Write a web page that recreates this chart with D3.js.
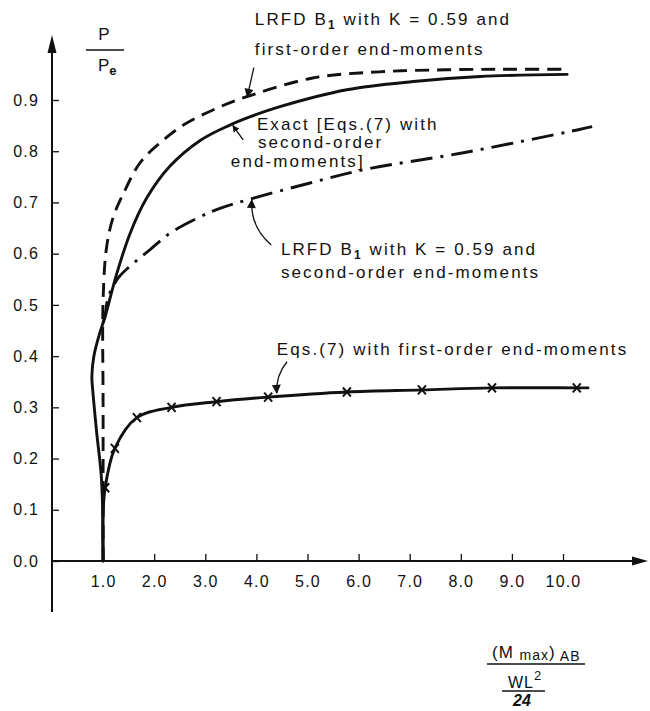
<!DOCTYPE html>
<html><head><meta charset="utf-8">
<script src="https://cdn.jsdelivr.net/npm/d3@7"></script>
<style>
body{margin:0;background:#fff;}
text{font-family:"Liberation Sans",Arial,Helvetica,sans-serif;fill:#111;}
</style></head>
<body>
<svg id="c" width="650" height="711"></svg>
<script>
// ---- data ----
const xTickValues = [1,2,3,4,5,6,7,8,9,10];
const xTickLabels = ["1.0","2.0","3.0","4.0","5.0","6.0","7.0","8.0","9.0","10.0"];
const yTickValues = [0,0.1,0.2,0.3,0.4,0.5,0.6,0.7,0.8,0.9];
const yTickLabels = ["0.0","0.1","0.2","0.3","0.4","0.5","0.6","0.7","0.8","0.9"];

// LRFD B1 with K=0.59 and first-order end-moments (dashed)
const lrfdFirstX = [1.0,1.0,1.0,1.07,1.2,1.4,1.72,2.11,2.57,3.16,3.74,5.1,6.4,7.7,8.9,10.04];
const lrfdFirstP = [0.0,0.30,0.51,0.614,0.672,0.718,0.777,0.816,0.851,0.881,0.904,0.943,0.955,0.959,0.96,0.96];

// Exact [Eqs.(7) with second-order end-moments] (solid)
const exactX = [1.0,0.97,0.875,0.80,0.78,0.82,0.92,1.0,1.04,1.27,1.53,1.85,2.31,2.9,3.48,3.87,4.46,5.77,7.07,8.38,10.08];
const exactP = [0.0,0.158,0.25,0.33,0.36,0.40,0.44,0.465,0.477,0.562,0.64,0.708,0.771,0.821,0.851,0.867,0.887,0.92,0.936,0.946,0.95];

// LRFD B1 with K=0.59 and second-order end-moments (dash-dot)
const lrfdSecondX = [1.0,1.04,1.1,1.3,1.59,1.92,2.31,2.9,3.22,3.82,5.05,6.1,8.05,10.3,10.57];
const lrfdSecondP = [0.465,0.48,0.515,0.553,0.581,0.608,0.64,0.672,0.686,0.705,0.738,0.764,0.797,0.842,0.848];

// Eqs.(7) with first-order end-moments (solid with crosses)
const firstOrderX = [1.0,1.0,1.04,1.23,1.66,2.34,3.22,4.23,5.77,7.24,8.61,10.27,10.49];
const firstOrderP = [0.0,0.09,0.143,0.22,0.28,0.30,0.311,0.32,0.33,0.334,0.338,0.338,0.338];
const crossX = [1.04,1.23,1.66,2.34,3.22,4.23,5.77,7.24,8.61,10.27];
const crossP = [0.143,0.22,0.28,0.30,0.311,0.32,0.33,0.334,0.338,0.338];

// annotations (data coordinates)
const annLines = [
  {x:3.97,p:1.047,parts:[["LRFD B"],["1","sub"],[" with K = 0.59 and"]]},
  {x:3.97,p:0.988,parts:[["first-order end-moments"]]},
  {x:4.01,p:0.842,parts:[["Exact [Eqs.(7) with"]]},
  {x:4.03,p:0.806,parts:[["second-order"]]},
  {x:3.50,p:0.770,parts:[["end-moments]"]]},
  {x:4.48,p:0.598,parts:[["LRFD B"],["1","sub"],[" with K = 0.59 and"]]},
  {x:4.48,p:0.553,parts:[["second-order end-moments"]]},
  {x:4.40,p:0.402,parts:[["Eqs.(7) with first-order end-moments"]]}
];
const arrows = [
  {x0:3.95,p0:0.963,x1:3.82,p1:0.906,bend:0},
  {x0:3.74,p0:0.822,x1:3.54,p1:0.850,bend:0},
  {x0:4.29,p0:0.617,x1:3.91,p1:0.705,bend:-0.25},
  {x0:4.60,p0:0.389,x1:4.40,p1:0.328,bend:0.2}
];

// ---- drawing ----
const svg = d3.select("#c");
svg.append("rect").attr("width",650).attr("height",711).attr("fill","#fff");
const x = d3.scaleLinear().domain([0,10]).range([52,563]);
const y = d3.scaleLinear().domain([0,0.9]).range([561,100]);
const ink = "#111";

// axes lines
svg.append("line").attr("x1",x(0)).attr("x2",x(0)).attr("y1",612).attr("y2",44)
  .attr("stroke",ink).attr("stroke-width",2);
svg.append("path").attr("d",`M${x(0)},35 L${x(0)-4.5},53 L${x(0)+4.5},53 Z`).attr("fill",ink);
svg.append("line").attr("x1",x(0)).attr("x2",640).attr("y1",y(0)).attr("y2",y(0))
  .attr("stroke",ink).attr("stroke-width",2);
svg.append("path").attr("d",`M648,${y(0)} L632,${y(0)-4.5} L632,${y(0)+4.5} Z`).attr("fill",ink);

const xAxis = d3.axisBottom(x).tickValues(xTickValues)
  .tickFormat((d,i)=>xTickLabels[i]).tickSize(-7).tickPadding(15);
const gx = svg.append("g").attr("transform",`translate(0,${y(0)})`).call(xAxis);
gx.select(".domain").remove();
gx.selectAll(".tick line").attr("stroke",ink).attr("stroke-width",1.3);
gx.selectAll(".tick text").attr("font-size",16).attr("fill",ink)
  .style("letter-spacing","1.2px").attr("font-family","Liberation Sans, Arial, sans-serif");

const yAxis = d3.axisLeft(y).tickValues(yTickValues)
  .tickFormat((d,i)=>yTickLabels[i]).tickSize(-7).tickPadding(13);
const gy = svg.append("g").attr("transform",`translate(${x(0)},0)`).call(yAxis);
gy.select(".domain").remove();
gy.selectAll(".tick line").attr("stroke",ink).attr("stroke-width",1.3);
gy.selectAll(".tick text").attr("font-size",16).attr("fill",ink)
  .style("letter-spacing","1.2px").attr("font-family","Liberation Sans, Arial, sans-serif");

// curves
const mk = (xs,ps)=>xs.map((v,i)=>[v,ps[i]]);
const line = d3.line().x(d=>x(d[0])).y(d=>y(d[1])).curve(d3.curveCatmullRom.alpha(0.5));

svg.append("path").attr("d",line(mk(exactX,exactP)))
  .attr("fill","none").attr("stroke",ink).attr("stroke-width",2.9).attr("stroke-linecap","round");
svg.append("path").attr("d",line(mk(lrfdSecondX,lrfdSecondP)))
  .attr("fill","none").attr("stroke",ink).attr("stroke-width",2.9)
  .attr("stroke-dasharray","22,8,3,8");
svg.append("path").attr("d",line(mk(lrfdFirstX,lrfdFirstP)))
  .attr("fill","none").attr("stroke",ink).attr("stroke-width",2.9)
  .attr("stroke-dasharray","14,8");
svg.append("path").attr("d",line(mk(firstOrderX,firstOrderP)))
  .attr("fill","none").attr("stroke",ink).attr("stroke-width",2.9).attr("stroke-linecap","round");
svg.append("g").selectAll("path").data(mk(crossX,crossP)).join("path")
  .attr("d",d=>{const cx=x(d[0]),cy=y(d[1]);return `M${cx-4},${cy-4.5}L${cx+4},${cy+4.5}M${cx+4},${cy-4.5}L${cx-4},${cy+4.5}`;})
  .attr("stroke",ink).attr("stroke-width",2);

// annotations text
const annG = svg.append("g");
annLines.forEach(a=>{
  const t = annG.append("text").attr("x",x(a.x)).attr("y",y(a.p))
    .attr("font-size",17).style("letter-spacing","2.1px");
  a.parts.forEach(pt=>{
    const s = t.append("tspan").text(pt[0]);
    if(pt[1]==="sub"){ s.attr("font-size",12).attr("dy",4).attr("font-weight","bold"); }
    else if(t.selectAll("tspan").size()>1){ s.attr("dy",-4); }
  });
});

// arrows
const defs = svg.append("defs");
defs.append("marker").attr("id","ah").attr("viewBox","0 0 10 10").attr("refX",9).attr("refY",5)
  .attr("markerWidth",7).attr("markerHeight",9).attr("markerUnits","userSpaceOnUse").attr("orient","auto")
  .append("path").attr("d","M0,0 L10,5 L0,10 Z").attr("fill",ink);
defs.append("marker").attr("id","ahL").attr("viewBox","0 0 10 10").attr("refX",9).attr("refY",5)
  .attr("markerWidth",12).attr("markerHeight",9).attr("markerUnits","userSpaceOnUse").attr("orient","auto")
  .append("path").attr("d","M0,0 L10,5 L0,10 Z").attr("fill",ink);
arrows.forEach((a,i)=>{
  const X0=x(a.x0),Y0=y(a.p0),X1=x(a.x1),Y1=y(a.p1);
  const mx=(X0+X1)/2, my=(Y0+Y1)/2, dx=X1-X0, dy=Y1-Y0;
  const cx=mx - dy*a.bend, cy=my + dx*a.bend;
  svg.append("path").attr("d",`M${X0},${Y0} Q${cx},${cy} ${X1},${Y1}`)
    .attr("fill","none").attr("stroke",ink).attr("stroke-width",1.3)
    .attr("marker-end", i===1 ? "url(#ah)" : "url(#ahL)");
});

// y axis label  P / Pe
svg.append("text").attr("x",104).attr("y",40).attr("text-anchor","middle").attr("font-size",17).text("P");
svg.append("line").attr("x1",86).attr("x2",124).attr("y1",50).attr("y2",50).attr("stroke",ink).attr("stroke-width",1.3);
const pe = svg.append("text").attr("x",98).attr("y",71).attr("font-size",17);
pe.append("tspan").text("P");
pe.append("tspan").text("e").attr("font-size",13).attr("font-weight","bold").attr("dy",4);

// x axis label
const mt = svg.append("text").attr("x",492).attr("y",658).attr("font-size",17).style("letter-spacing","1px");
mt.append("tspan").text("(M ");
mt.append("tspan").text("max").attr("font-size",14).attr("dy",2);
mt.append("tspan").text(")").attr("font-size",17).attr("dy",-2);
mt.append("tspan").text(" AB").attr("font-size",14).attr("dy",3);
svg.append("line").attr("x1",487).attr("x2",585).attr("y1",664).attr("y2",664).attr("stroke",ink).attr("stroke-width",1.3);
const wl = svg.append("text").attr("x",508).attr("y",688).attr("font-size",16).style("letter-spacing","1px");
wl.append("tspan").text("WL");
wl.append("tspan").text("2").attr("font-size",13).attr("dy",-8);
svg.append("line").attr("x1",502).attr("x2",545).attr("y1",691).attr("y2",691).attr("stroke",ink).attr("stroke-width",1.3);
svg.append("text").attr("x",522).attr("y",706).attr("text-anchor","middle").attr("font-size",16)
  .attr("font-weight","bold").attr("font-style","italic").text("24");
</script>
</body></html>
